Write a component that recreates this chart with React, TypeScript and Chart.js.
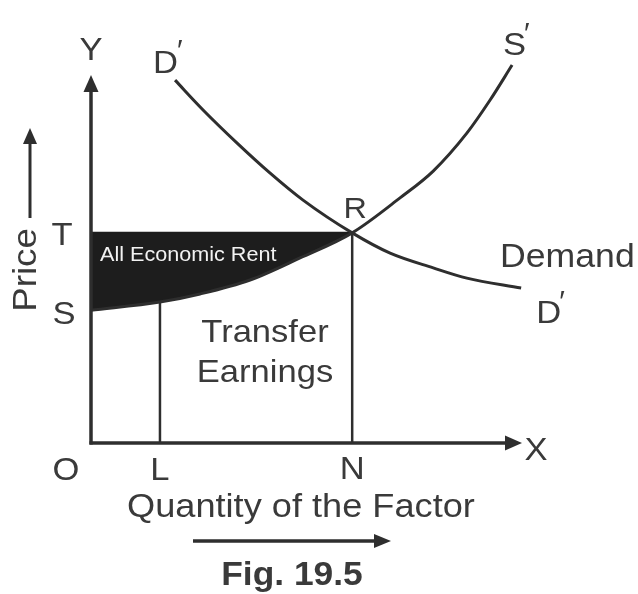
import { useEffect, useRef } from 'react';
import { Chart, registerables } from 'chart.js';

Chart.register(...registerables);

// Demand curve D′D′ (quantity, price)
const demandQty = [19.5, 26.0, 33.9, 41.5, 49.2, 60.6, 69.4, 79.4, 87.2, 99.8];
const demandPrice = [98.6, 90.5, 81.5, 73.4, 66.0, 57.1, 51.6, 47.6, 44.8, 42.1];

// Supply curve SS′ (quantity, price)
const supplyQty = [0, 16.0, 25.3, 36.9, 48.5, 60.6, 71.7, 79.4, 87.2, 92.6, 97.7];
const supplyPrice = [36.1, 38.3, 40.5, 44.3, 50.3, 57.1, 66.6, 73.9, 84.2, 93.2, 102.7];

// Reference points on the axes
const qtyL = 16.0;
const priceAtL = 38.3;
const qtyN = 60.6;
const priceT = 57.1;
const priceS = 36.1;

const axisMax = 100;

const INK = '#2e2e2e';
const TEXT = '#3a3a3a';
const RENT = '#1d1d1d';
const FONT = '"Liberation Sans", Arial, sans-serif';

const pts = (xs: number[], ys: number[]) => xs.map((x, i) => ({ x, y: ys[i] }));

// Supply points from S up to the equilibrium R bound the economic rent area
const rentPoints = pts(supplyQty, supplyPrice).filter((p) => p.x <= qtyN);

function text(
  ctx: CanvasRenderingContext2D,
  s: string,
  x: number,
  y: number,
  size: number,
  align: CanvasTextAlign = 'center',
  opts: { bold?: boolean; color?: string; stretch?: number } = {}
) {
  ctx.save();
  ctx.translate(x, y);
  ctx.scale(opts.stretch ?? 1.08, 1);
  ctx.font = `${opts.bold ? 'bold ' : ''}${size}px ${FONT}`;
  ctx.fillStyle = opts.color ?? TEXT;
  ctx.textAlign = align;
  ctx.textBaseline = 'alphabetic';
  ctx.fillText(s, 0, 0);
  ctx.restore();
}

function arrowLine(
  ctx: CanvasRenderingContext2D,
  x0: number,
  y0: number,
  x1: number,
  y1: number,
  width: number,
  headLen: number,
  headHalf: number
) {
  const ang = Math.atan2(y1 - y0, x1 - x0);
  const bx = x1 - Math.cos(ang) * headLen;
  const by = y1 - Math.sin(ang) * headLen;
  ctx.save();
  ctx.strokeStyle = INK;
  ctx.fillStyle = INK;
  ctx.lineWidth = width;
  ctx.beginPath();
  ctx.moveTo(x0, y0);
  ctx.lineTo(bx, by);
  ctx.stroke();
  ctx.beginPath();
  ctx.moveTo(x1, y1);
  ctx.lineTo(bx - Math.sin(ang) * headHalf, by + Math.cos(ang) * headHalf);
  ctx.lineTo(bx + Math.sin(ang) * headHalf, by - Math.cos(ang) * headHalf);
  ctx.closePath();
  ctx.fill();
  ctx.restore();
}

const diagramPlugin = {
  id: 'diagram',
  afterDatasetsDraw(chart: Chart) {
    const ctx = chart.ctx;
    const xs = chart.scales.x;
    const ys = chart.scales.y;
    const px = (v: number) => xs.getPixelForValue(v);
    const py = (v: number) => ys.getPixelForValue(v);
    const ox = px(0);
    const oy = py(0);

    // Axes OY and OX with arrow heads
    arrowLine(ctx, ox, oy + 1.5, ox, py(axisMax), 3.5, 17, 7.5);
    arrowLine(ctx, ox - 1.5, oy, px(axisMax), oy, 3.5, 17, 7.5);

    // Axis letters and point names
    text(ctx, 'Y', ox, 60, 32);
    text(ctx, 'X', px(axisMax) + 14, oy + 17, 32);
    text(ctx, 'O', ox - 25, 480, 32);
    text(ctx, 'L', px(qtyL), 480, 32);
    text(ctx, 'N', px(qtyN), 479, 32);
    text(ctx, 'T', ox - 29, py(priceT) + 12, 32);
    text(ctx, 'S', ox - 27, py(priceS) + 14, 32);
    text(ctx, 'R', px(qtyN) + 3, py(priceT) - 15, 30);

    // Curve names
    const dTopX = px(demandQty[0]);
    const dTopY = py(demandPrice[0]);
    text(ctx, 'D', dTopX - 22, dTopY - 7, 32, 'left');
    text(ctx, '′', dTopX + 2, dTopY - 20, 30, 'left', { stretch: 1 });

    const sTopX = px(supplyQty[supplyQty.length - 1]);
    const sTopY = py(supplyPrice[supplyPrice.length - 1]);
    text(ctx, 'S', sTopX - 9, sTopY - 10, 32, 'left');
    text(ctx, '′', sTopX + 12, sTopY - 22, 30, 'left', { stretch: 1 });

    const dEndX = px(demandQty[demandQty.length - 1]);
    const dEndY = py(demandPrice[demandPrice.length - 1]);
    text(ctx, 'D', dEndX + 15, dEndY + 35, 32, 'left');
    text(ctx, '′', dEndX + 38, dEndY + 23, 30, 'left', { stretch: 1 });
    text(ctx, 'Demand', 500, 267, 33, 'left');

    // Area labels
    text(ctx, 'All Economic Rent', ox + 9, py(priceT) + 28, 20, 'left', { color: '#f2f2f2' });
    text(ctx, 'Transfer', 265, 342, 32);
    text(ctx, 'Earnings', 265, 382, 32);

    // Axis titles
    text(ctx, 'Quantity of the Factor', 127, 517, 33.5, 'left');
    arrowLine(ctx, 193, 541, 391, 541, 3.5, 17, 7);
    text(ctx, 'Fig. 19.5', 292, 585, 34, 'center', { bold: true, stretch: 1.04 });

    ctx.save();
    ctx.translate(36, 270);
    ctx.rotate(-Math.PI / 2);
    text(ctx, 'Price', 0, 0, 34);
    ctx.restore();
    arrowLine(ctx, 30, 218, 30, 128, 3, 16, 7);
  },
};

export default function App() {
  const ref = useRef<HTMLCanvasElement>(null);

  useEffect(() => {
    const canvas = ref.current;
    if (!canvas) return;
    const chart = new Chart(canvas, {
      type: 'scatter',
      data: {
        datasets: [
          {
            label: 'Supply',
            data: pts(supplyQty, supplyPrice),
            showLine: true,
            borderColor: INK,
            borderWidth: 3,
            cubicInterpolationMode: 'monotone',
            pointRadius: 0,
            clip: false,
            fill: false,
          },
          {
            label: 'Demand',
            data: pts(demandQty, demandPrice),
            showLine: true,
            borderColor: INK,
            borderWidth: 3,
            cubicInterpolationMode: 'monotone',
            pointRadius: 0,
            clip: false,
            fill: false,
          },
          {
            label: 'RN',
            data: [
              { x: qtyN, y: 0 },
              { x: qtyN, y: priceT },
            ],
            showLine: true,
            borderColor: INK,
            borderWidth: 2.5,
            pointRadius: 0,
            fill: false,
          },
          {
            label: 'L',
            data: [
              { x: qtyL, y: 0 },
              { x: qtyL, y: priceAtL },
            ],
            showLine: true,
            borderColor: INK,
            borderWidth: 2.5,
            pointRadius: 0,
            fill: false,
          },
          {
            label: 'TR',
            data: [
              { x: 0, y: priceT },
              { x: qtyN, y: priceT },
            ],
            showLine: true,
            borderColor: RENT,
            borderWidth: 2,
            pointRadius: 0,
            fill: false,
          },
          {
            label: 'All Economic Rent',
            data: rentPoints,
            showLine: true,
            borderWidth: 0,
            borderColor: 'rgba(0,0,0,0)',
            backgroundColor: RENT,
            cubicInterpolationMode: 'monotone',
            pointRadius: 0,
            fill: { value: priceT },
          },
        ],
      },
      options: {
        responsive: false,
        animation: false,
        devicePixelRatio: 1,
        events: [],
        layout: { padding: { left: 91, right: 116, top: 75, bottom: 151 } },
        scales: {
          x: { type: 'linear', min: 0, max: axisMax, display: false },
          y: { type: 'linear', min: 0, max: axisMax, display: false },
        },
        plugins: {
          legend: { display: false },
          tooltip: { enabled: false },
          title: { display: false },
        },
      },
      plugins: [diagramPlugin],
    });
    return () => chart.destroy();
  }, []);

  return (
    <div style={{ position: 'absolute', left: 0, top: 0, width: 638, height: 594, background: '#fff' }}>
      <canvas ref={ref} width={638} height={594} style={{ display: 'block' }} />
    </div>
  );
}
